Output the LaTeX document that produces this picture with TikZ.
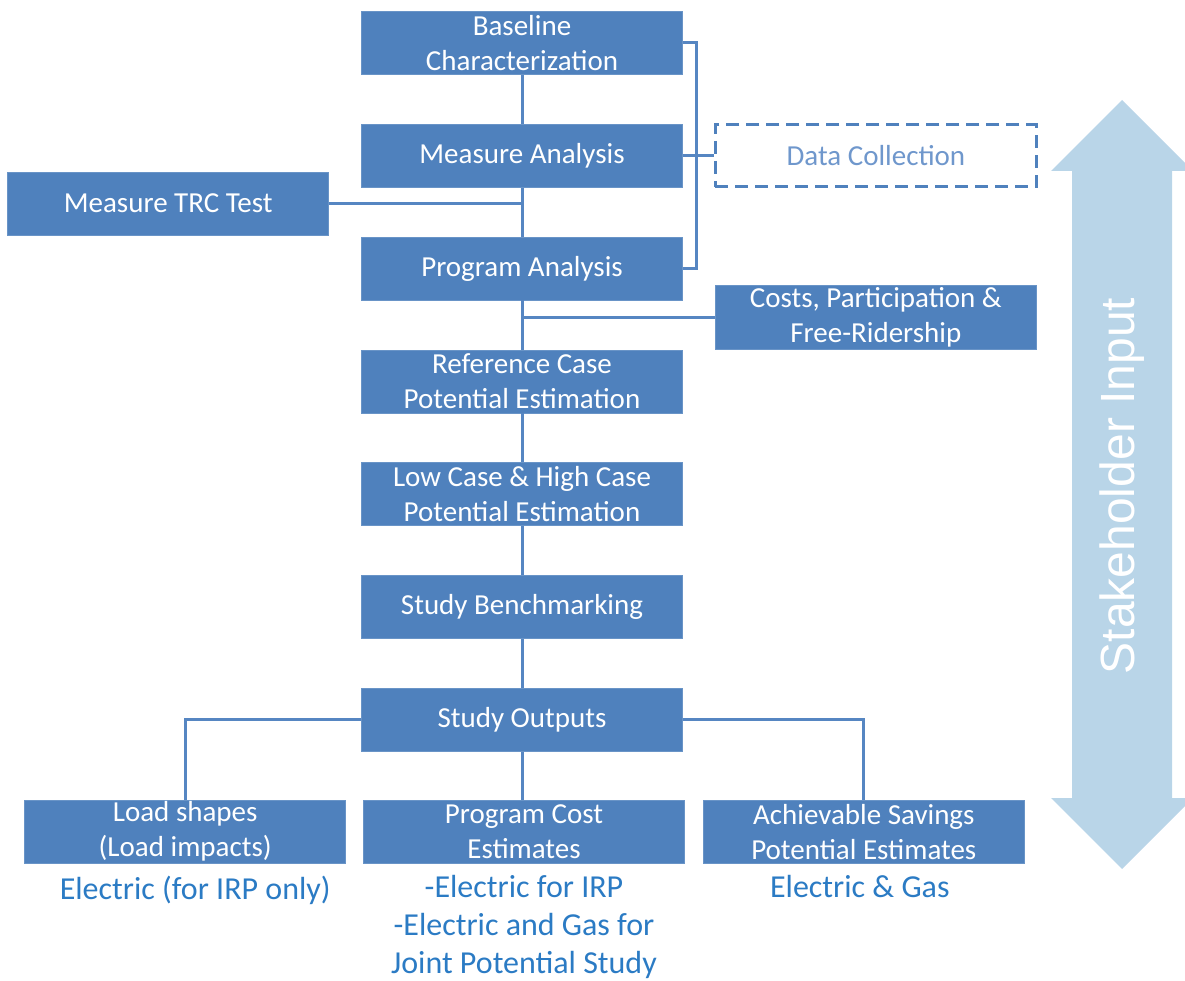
\documentclass[tikz,border=0pt]{standalone}
\usepackage{fontspec}
\setmainfont{Carlito}
\newfontfamily\arrowfont{Liberation Sans}
\usetikzlibrary{positioning}

\definecolor{boxblue}{HTML}{4F81BD}
\definecolor{linkblue}{HTML}{5686C2}
\definecolor{noteblue}{HTML}{2B7BC4}
\definecolor{datablue}{HTML}{6F97CC}
\definecolor{inputblue}{HTML}{B9D5E8}

\tikzset{
  stage/.style={rectangle, fill=boxblue, draw=boxblue!85!white, line width=0.8pt,
    text=white, minimum width=321pt, minimum height=63pt, inner sep=0pt,
    align=center, font=\fontsize{29}{35}\selectfont},
  datastage/.style={stage, fill=none, draw=boxblue, line width=3pt,
    dash pattern=on 13pt off 7pt, text=datablue, minimum height=62pt},
  note/.style={text=noteblue, align=center, inner sep=0pt,
    font=\fontsize{32}{38}\selectfont},
  link/.style={draw=linkblue, line width=3pt}
}

\begin{document}
\begin{tikzpicture}[x=1pt, y=-1pt, node distance=49pt]
  \clip (0,0) rectangle (1185,981);

  \node[stage] (base) at (522,43) {Baseline\\Characterization};
  \node[stage] (meas) [below=of base] {Measure Analysis};
  \node[stage] (prog) [below=of meas] {Program Analysis};
  \node[stage] (ref) [below=of prog] {Reference Case\\Potential Estimation};
  \node[stage] (low) [below=of ref] {Low Case \& High Case\\Potential Estimation};
  \node[stage] (bench) [below=of low] {Study Benchmarking};
  \node[stage] (outputs) [below=of bench] {Study Outputs};

  \node[stage] (trc) [below left=-16pt and 32pt of meas.south west] {Measure TRC Test};
  \node[datastage] (data) [right=31pt of meas] {Data Collection};
  \node[stage] (costs) [below right=-15pt and 32pt of prog.south east] {Costs, Participation \&\\Free-Ridership};

  \node[stage] (cost) [below=48pt of outputs, xshift=2pt] {Program Cost\\Estimates};
    \node[stage] (load) [left=17pt of cost] {Load shapes\\(Load impacts)};
    \node[stage] (achv) [right=18pt of cost] {Achievable Savings\\Potential Estimates};

  \node[note] (load_n) [below=12pt of load, xshift=10pt] {Electric (for IRP only)};
  \node[note] (cost_n) [below=12pt of cost] {-Electric for IRP\\-Electric and Gas for\\Joint Potential Study};
  \node[note] (achv_n) [below=12pt of achv, xshift=-4pt] {Electric \& Gas};

  % main chain
  \draw[link] (base) -- (meas);
  \draw[link] (meas) -- (prog);
  \draw[link] (prog) -- (ref);
  \draw[link] (ref) -- (low);
  \draw[link] (low) -- (bench);
  \draw[link] (bench) -- (outputs);

  \draw[link] (base.east) -- ++(14,0) |- (prog.east);
  \draw[link] (meas) -- (data);
  \draw[link] (trc.east) -- (trc.east -| meas.south);
  \draw[link] (costs.west) -- (costs.west -| prog.south);

  \draw[link] (outputs.west) -| (load);
  \draw[link] (outputs.east) -| (achv);
  \draw[link] (outputs.south) -- (outputs.south |- cost.north);

  % stakeholder arrow
  \coordinate (top) at (1122,100);
  \coordinate (bot) at (1122,869);
  \fill[inputblue] (top) -- (1193,171) -- (1172,171) -- (1172,798) -- (1193,798)
    -- (bot) -- (1051,798) -- (1072,798) -- (1072,171) -- (1051,171) -- cycle;
  \node[text=white, rotate=90, font=\arrowfont\fontsize{48}{50}\selectfont] (input) at (1122,486) {Stakeholder Input};

\end{tikzpicture}
\end{document}
